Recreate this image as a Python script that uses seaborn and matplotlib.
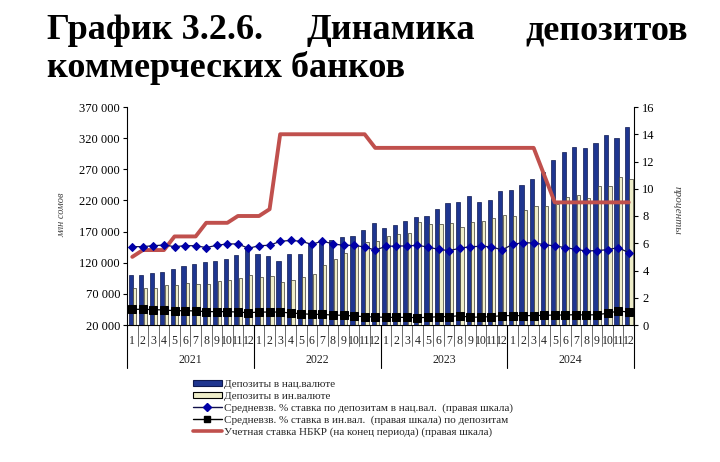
import numpy as np
import pandas as pd
import matplotlib
matplotlib.use('Agg')
import matplotlib.pyplot as plt
import seaborn as sns
from matplotlib.lines import Line2D
from matplotlib.patches import Patch
from matplotlib.ticker import FuncFormatter

sns.set_theme(style='white')
plt.rcParams['font.family'] = ['Liberation Serif', 'DejaVu Serif']

years = ['2021', '2022', '2023', '2024']
months = [str(m) for m in range(1, 13)]

# Deposits in national currency, mln som
dep_nat = [100300, 99700, 104000, 104500, 109400, 115200, 117400, 120600, 122700, 126000, 131900, 145700,
           134400, 130100, 123200, 133300, 133800, 148400, 153800, 156000, 161300, 162900, 173000, 184300,
           175200, 180000, 186500, 192900, 195500, 206200, 215900, 217500, 227100, 217000, 220700, 235100,
           236000, 244800, 254900, 266000, 284900, 297200, 305700, 304700, 312200, 325000, 319700, 338400]
# Deposits in foreign currency, mln som
dep_for = [79900, 79900, 79900, 83600, 83600, 87400, 85800, 85800, 90100, 92200, 95400, 99700,
           96500, 98600, 89000, 92200, 97500, 101900, 116300, 126000, 135100, 147000, 154000, 155000,
           162900, 165600, 167200, 184800, 181600, 182700, 183200, 177900, 184800, 187400, 191200, 196600,
           195500, 204600, 211500, 211000, 215000, 226000, 229200, 224400, 243700, 243700, 257000, 254400]
# Weighted average rate, national currency, %
rate_nat = [5.75, 5.75, 5.82, 5.87, 5.75, 5.82, 5.82, 5.68, 5.85, 5.95, 5.95, 5.63,
            5.82, 5.85, 6.14, 6.21, 6.14, 5.92, 6.16, 5.95, 5.85, 5.85, 5.72, 5.50,
            5.77, 5.80, 5.80, 5.85, 5.72, 5.55, 5.46, 5.63, 5.75, 5.77, 5.75, 5.50,
            5.92, 6.04, 6.02, 5.90, 5.80, 5.68, 5.55, 5.43, 5.46, 5.53, 5.68, 5.31]
# Weighted average rate, foreign currency, %
rate_for = [1.15, 1.15, 1.13, 1.10, 1.05, 1.05, 1.03, 0.98, 0.98, 0.98, 0.95, 0.90,
            0.95, 0.95, 0.95, 0.88, 0.83, 0.78, 0.78, 0.73, 0.71, 0.66, 0.61, 0.59,
            0.56, 0.56, 0.56, 0.54, 0.56, 0.61, 0.61, 0.69, 0.56, 0.59, 0.61, 0.69,
            0.69, 0.69, 0.69, 0.71, 0.73, 0.73, 0.76, 0.73, 0.76, 0.86, 1.03, 0.95]
# NBKR policy rate, %
policy = [5.0, 5.5, 5.5, 5.5, 6.5, 6.5, 6.5, 7.5, 7.5, 7.5, 8.0, 8.0,
          8.0, 8.5, 14.0, 14.0, 14.0, 14.0, 14.0, 14.0, 14.0, 14.0, 14.0, 13.0,
          13.0, 13.0, 13.0, 13.0, 13.0, 13.0, 13.0, 13.0, 13.0, 13.0, 13.0, 13.0,
          13.0, 13.0, 13.0, 11.0, 9.0, 9.0, 9.0, 9.0, 9.0, 9.0, 9.0, 9.0]

left_ticks = [20000, 70000, 120000, 170000, 220000, 270000, 320000, 370000]
right_ticks = [0, 2, 4, 6, 8, 10, 12, 14, 16]

labels = ['Депозиты в нац.валюте',
          'Депозиты в ин.валюте',
          'Средневзв. % ставка по депозитам в нац.вал.  (правая шкала)',
          'Средневзв. % ставка в ин.вал.  (правая шкала) по депозитам',
          'Учетная ставка НБКР (на конец периода) (правая шкала)']

NAVY = '#1F3690'
CREAM = '#EEEDC9'
RED = '#C0504D'

period = [f'{y}-{m}' for y in years for m in months]
n = len(period)
df = pd.DataFrame({'period': period * 2,
                   'value': dep_nat + dep_for,
                   'series': ['nat'] * n + ['for'] * n})

fig = plt.figure(figsize=(7.2, 4.62), dpi=100)
ax = fig.add_axes([127 / 720, 137 / 462, 507 / 720, 218 / 462])

sns.barplot(data=df, x='period', y='value', hue='series', hue_order=['nat', 'for'],
            palette={'nat': NAVY, 'for': CREAM}, dodge=True, width=0.8, saturation=1,
            ax=ax, legend=False, zorder=2)

patches = ax.patches
for p in patches[:n]:
    c = p.get_x() + p.get_width() / 2
    p.set_width(0.40)
    p.set_x(c + 0.05 - 0.20)
    p.set_edgecolor('#0F1A50')
    p.set_linewidth(0.5)
for p in patches[n:2 * n]:
    c = p.get_x() + p.get_width() / 2
    p.set_width(0.30)
    p.set_x(c - 0.13)
    p.set_edgecolor('#3A3A30')
    p.set_linewidth(0.5)

ax.set_xlim(-0.5, n - 0.5)
ax.set_ylim(20000, 370000)
ax.set_yticks(left_ticks)
ax.yaxis.set_major_formatter(FuncFormatter(lambda v, pos: f'{int(v):,}'.replace(',', ' ')))
ax.set_xticks([])
ax.set_xlabel('')
ax.set_ylabel('')
ax.tick_params(axis='y', direction='out', length=3, width=0.8, labelsize=9, pad=2,
               colors='black', left=True)
for s in ['top', 'right']:
    ax.spines[s].set_visible(False)
for s in ['left', 'bottom']:
    ax.spines[s].set_color('black')
    ax.spines[s].set_linewidth(0.8)

ax2 = ax.twinx()
xs = np.arange(n)
sns.lineplot(x=xs, y=policy, ax=ax2, color=RED, linewidth=2.8, zorder=3)
sns.lineplot(x=xs, y=rate_for, ax=ax2, color='black', linewidth=0.9, marker='s',
             markersize=5.8, markeredgecolor='black', markerfacecolor='black', zorder=4)
sns.lineplot(x=xs, y=rate_nat, ax=ax2, color='#10104A', linewidth=0.9, marker='D',
             markersize=4.2, markeredgecolor='#0000A8', markerfacecolor='#0000A8', zorder=5)
ax2.set_ylim(0, 16)
ax2.set_yticks(right_ticks)
ax2.set_ylabel('')
ax2.tick_params(axis='y', direction='out', length=3, width=0.8, labelsize=9, pad=3,
                colors='black', right=True)
for s in ['top', 'left', 'bottom']:
    ax2.spines[s].set_visible(False)
ax2.spines['right'].set_color('black')
ax2.spines['right'].set_linewidth(0.8)
ax2.grid(False)
ax.grid(False)

# two-level category axis
tr = ax.get_xaxis_transform()
for i in range(n):
    ax.text(i, -0.072, months[i % 12], transform=tr, ha='center', va='center',
            fontsize=8.5, color='#222222', clip_on=False)
for b in range(n + 1):
    xb = b - 0.5
    low = -0.195 if b % 12 == 0 else -0.095
    ax.plot([xb, xb], [0, low], transform=tr, color='#555555' if b % 12 else 'black',
            lw=0.6 if b % 12 else 0.8, clip_on=False)
for k, y in enumerate(years):
    ax.text(12 * k + 5.5, -0.16, y, transform=tr, ha='center', va='center',
            fontsize=8.5, color='#222222', clip_on=False)

fig.text(62 / 720, 1 - 215 / 462, 'млн сомов', rotation=90, ha='center', va='center',
         fontsize=7.5, style='italic', color='#444444')
fig.text(677 / 720, 1 - 210 / 462, 'проценты', rotation=270, ha='center', va='center',
         fontsize=8, style='italic', color='#444444')

# title (justified first line)
TS = 26
fig.text(47 / 720, 1 - 39 / 462, 'График 3.2.6.', ha='left', va='baseline',
         fontsize=TS, fontweight='bold', color='black')
fig.text(391 / 720, 1 - 39 / 462, 'Динамика', ha='center', va='baseline',
         fontsize=TS, fontweight='bold', color='black')
fig.text(688 / 720, 1 - 39 / 462, 'депозитов', ha='right', va='baseline',
         fontsize=TS, fontweight='bold', color='black')
fig.text(47 / 720, 1 - 77 / 462, 'коммерческих банков', ha='left', va='baseline',
         fontsize=TS, fontweight='bold', color='black')

handles = [Patch(facecolor=NAVY, edgecolor='#0F1A50', linewidth=0.8),
           Patch(facecolor=CREAM, edgecolor='black', linewidth=0.8),
           Line2D([], [], color='#10104A', lw=1, marker='D', markersize=4,
                  markerfacecolor='#0000A8', markeredgecolor='#0000A8'),
           Line2D([], [], color='black', lw=1, marker='s', markersize=5,
                  markerfacecolor='black', markeredgecolor='black'),
           Line2D([], [], color=RED, lw=2.6)]
fig.legend(handles, labels, loc='upper left', bbox_to_anchor=(193 / 720, 1 - 380 / 462),
           frameon=False, fontsize=8, handlelength=2.6, handleheight=0.5,
           labelspacing=0.22, handletextpad=0.15, borderpad=0, borderaxespad=0)

fig.savefig('out.png', dpi=100, facecolor='white')
